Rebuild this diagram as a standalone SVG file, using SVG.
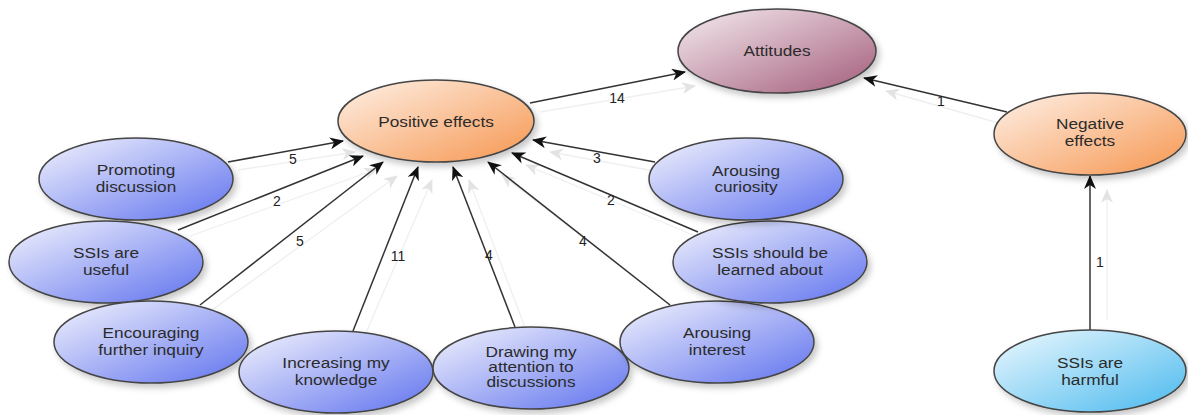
<svg xmlns="http://www.w3.org/2000/svg" width="1188" height="415" viewBox="0 0 1188 415">
<style>
.node{stroke:#454545;stroke-width:1.5;filter:url(#sh)}
.lbl{font-family:"Liberation Sans",Arial,sans-serif;font-size:15px;fill:#2b2b2b;text-anchor:middle}
.num{font-family:"Liberation Sans",Arial,sans-serif;font-size:14px;fill:#222;text-anchor:middle}
.edge{stroke:#333;stroke-width:1.5;fill:none;marker-end:url(#arr)}
.ghost{stroke:#efefef;stroke-width:1.3;fill:none;marker-end:url(#garr)}
</style>
<defs>
<filter id="sh" x="-20%" y="-20%" width="150%" height="160%">
<feDropShadow dx="3" dy="4" stdDeviation="3" flood-color="#000" flood-opacity="0.22"/>
</filter>
<linearGradient id="gBlue" x1="0" y1="0" x2="1" y2="1">
<stop offset="0" stop-color="#f3f4fd"/><stop offset="1" stop-color="#5f72ee"/>
</linearGradient>
<linearGradient id="gOrange" x1="0" y1="0" x2="1" y2="1">
<stop offset="0" stop-color="#fef1e8"/><stop offset="1" stop-color="#f6964f"/>
</linearGradient>
<linearGradient id="gMauve" x1="0" y1="0" x2="1" y2="1">
<stop offset="0" stop-color="#f5ecf0"/><stop offset="1" stop-color="#a35c7a"/>
</linearGradient>
<linearGradient id="gCyan" x1="0" y1="0" x2="1" y2="1">
<stop offset="0" stop-color="#eef9fe"/><stop offset="1" stop-color="#49b9ee"/>
</linearGradient>
<marker id="arr" markerUnits="userSpaceOnUse" markerWidth="14" markerHeight="12" viewBox="0 0 14 12" refX="13" refY="6" orient="auto">
<path d="M0,0 L14,6 L0,12 L4,6 z" fill="#111"/>
</marker>
<marker id="garr" markerUnits="userSpaceOnUse" markerWidth="14" markerHeight="12" viewBox="0 0 14 12" refX="13" refY="6" orient="auto">
<path d="M0,0 L14,6 L0,12 L4,6 z" fill="#e3e3e3"/>
</marker>
</defs>
<rect width="1188" height="415" fill="#fff"/>

<g id="connectors">
<g id="ghosts">
<line class="ghost" x1="540" y1="112" x2="695" y2="86"/>
<line class="ghost" x1="1002" y1="124" x2="886" y2="91"/>
<line class="ghost" x1="1107" y1="320" x2="1107" y2="190"/>
<line class="ghost" x1="238" y1="170" x2="355" y2="152"/>
<line class="ghost" x1="190" y1="236" x2="377" y2="169"/>
<line class="ghost" x1="212" y1="310" x2="397" y2="176"/>
<line class="ghost" x1="365" y1="335" x2="432" y2="180"/>
<line class="ghost" x1="526" y1="330" x2="469" y2="180"/>
<line class="ghost" x1="680" y1="312" x2="502" y2="175"/>
<line class="ghost" x1="705" y1="240" x2="526" y2="165"/>
<line class="ghost" x1="660" y1="172" x2="550" y2="152"/>
</g>
<line class="edge" x1="530" y1="103" x2="685" y2="72"/>
<line class="edge" x1="1007" y1="112" x2="864" y2="78"/>
<line class="edge" x1="1090" y1="330" x2="1090" y2="176"/>
<line class="edge" x1="228" y1="162" x2="343" y2="141"/>
<line class="edge" x1="178" y1="230" x2="363" y2="156"/>
<line class="edge" x1="200" y1="305" x2="383" y2="162"/>
<line class="edge" x1="353" y1="331" x2="418" y2="167"/>
<line class="edge" x1="515" y1="327" x2="453" y2="167"/>
<line class="edge" x1="670" y1="305" x2="488" y2="162"/>
<line class="edge" x1="698" y1="232" x2="512" y2="153"/>
<line class="edge" x1="655" y1="162" x2="533" y2="140"/>
<text class="num" x="617" y="103">14</text>
<text class="num" x="941" y="106">1</text>
<text class="num" x="1100" y="267">1</text>
<text class="num" x="293" y="164">5</text>
<text class="num" x="277" y="206">2</text>
<text class="num" x="300" y="246">5</text>
<text class="num" x="398" y="261">11</text>
<text class="num" x="489" y="260">4</text>
<text class="num" x="583" y="246">4</text>
<text class="num" x="611" y="205">2</text>
<text class="num" x="597" y="163">3</text>
</g>

<g id="attitudes">
<ellipse class="node" cx="777" cy="51" rx="99" ry="42" fill="url(#gMauve)"/>
<text class="lbl" transform="translate(777 0) scale(1.15 1)"><tspan x="0" y="56">Attitudes</tspan></text>
</g>
<g id="positive-effects">
<ellipse class="node" cx="436" cy="121" rx="98" ry="41" fill="url(#gOrange)"/>
<text class="lbl" transform="translate(436 0) scale(1.15 1)"><tspan x="0" y="127">Positive effects</tspan></text>
</g>
<g id="negative-effects">
<ellipse class="node" cx="1090" cy="134" rx="96" ry="41" fill="url(#gOrange)"/>
<text class="lbl" transform="translate(1090 0) scale(1.15 1)"><tspan x="0" y="129">Negative</tspan><tspan x="0" y="146">effects</tspan></text>
</g>
<g id="promoting-discussion">
<ellipse class="node" cx="136" cy="179" rx="97" ry="41" fill="url(#gBlue)"/>
<text class="lbl" transform="translate(136 0) scale(1.15 1)"><tspan x="0" y="175">Promoting</tspan><tspan x="0" y="192">discussion</tspan></text>
</g>
<g id="ssis-useful">
<ellipse class="node" cx="106" cy="262" rx="97" ry="41" fill="url(#gBlue)"/>
<text class="lbl" transform="translate(106 0) scale(1.15 1)"><tspan x="0" y="258">SSIs are</tspan><tspan x="0" y="275">useful</tspan></text>
</g>
<g id="encouraging-inquiry">
<ellipse class="node" cx="151" cy="342" rx="97" ry="41" fill="url(#gBlue)"/>
<text class="lbl" transform="translate(151 0) scale(1.15 1)"><tspan x="0" y="338">Encouraging</tspan><tspan x="0" y="355">further inquiry</tspan></text>
</g>
<g id="increasing-knowledge">
<ellipse class="node" cx="336" cy="372" rx="97" ry="41" fill="url(#gBlue)"/>
<text class="lbl" transform="translate(336 0) scale(1.15 1)"><tspan x="0" y="368">Increasing my</tspan><tspan x="0" y="385">knowledge</tspan></text>
</g>
<g id="drawing-attention">
<ellipse class="node" cx="531" cy="368" rx="98" ry="41" fill="url(#gBlue)"/>
<text class="lbl" transform="translate(531 0) scale(1.15 1)"><tspan x="0" y="357">Drawing my</tspan><tspan x="0" y="372">attention to</tspan><tspan x="0" y="387">discussions</tspan></text>
</g>
<g id="arousing-interest">
<ellipse class="node" cx="717" cy="342" rx="97" ry="41" fill="url(#gBlue)"/>
<text class="lbl" transform="translate(717 0) scale(1.15 1)"><tspan x="0" y="338">Arousing</tspan><tspan x="0" y="355">interest</tspan></text>
</g>
<g id="ssis-learned">
<ellipse class="node" cx="770" cy="262" rx="97" ry="41" fill="url(#gBlue)"/>
<text class="lbl" transform="translate(770 0) scale(1.15 1)"><tspan x="0" y="258">SSIs should be</tspan><tspan x="0" y="275">learned about</tspan></text>
</g>
<g id="arousing-curiosity">
<ellipse class="node" cx="746" cy="179" rx="97" ry="41" fill="url(#gBlue)"/>
<text class="lbl" transform="translate(746 0) scale(1.15 1)"><tspan x="0" y="176">Arousing</tspan><tspan x="0" y="192">curiosity</tspan></text>
</g>
<g id="ssis-harmful">
<ellipse class="node" cx="1090" cy="371" rx="96" ry="41" fill="url(#gCyan)"/>
<text class="lbl" transform="translate(1090 0) scale(1.15 1)"><tspan x="0" y="368">SSIs are</tspan><tspan x="0" y="385">harmful</tspan></text>
</g>
</svg>
